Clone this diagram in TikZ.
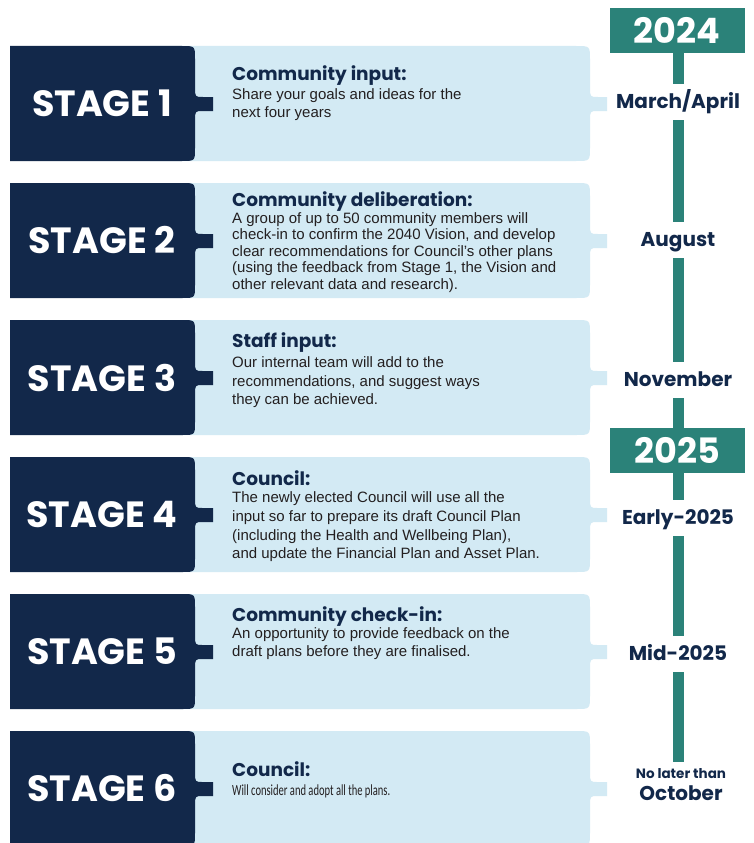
\documentclass[tikz,border=0pt]{standalone}
\usepackage{fontspec}
\setmainfont{Liberation Sans}
\newfontfamily\headfont{Poppins}
\newfontfamily\notefont{Carlito}
\usetikzlibrary{positioning}

\definecolor{navy}{HTML}{12284A}
\definecolor{paleblue}{HTML}{D3EAF4}
\definecolor{timeteal}{HTML}{2B8279}
\definecolor{bodygrey}{HTML}{231F20}

% pale panel with its small tab on the right, top edge at #1
\newcommand{\panel}[1]{%
 \fill[paleblue] (150,#1) -- (576,#1) .. controls (590,#1) .. (590,#1+14) -- (590,#1+41)
   .. controls (590,#1+51) .. (598,#1+51) -- (607,#1+51) -- (607,#1+65) -- (598,#1+65)
   .. controls (590,#1+65) .. (590,#1+75) -- (590,#1+101) .. controls (590,#1+115) .. (576,#1+115)
   -- (150,#1+115) -- cycle;}
% dark stage block, same height
\newcommand{\block}[1]{%
 \fill[navy] (10,#1) -- (182,#1) .. controls (195,#1) .. (195,#1+13) -- (195,#1+41)
   .. controls (195,#1+51) .. (203,#1+51) -- (213,#1+51) -- (213,#1+65) -- (203,#1+65)
   .. controls (195,#1+65) .. (195,#1+75) -- (195,#1+102) .. controls (195,#1+115) .. (182,#1+115)
   -- (10,#1+115) -- cycle;}

\begin{document}
\begin{tikzpicture}[x=1pt,y=-1pt,
  stagelabel/.style={text=white,inner sep=0,font=\headfont\bfseries\fontsize{36.5}{37}\selectfont},
  heading/.style={anchor=base west,inner sep=0,text depth=1,text=navy,font=\headfont\bfseries\fontsize{18.5}{20}\selectfont},
  body/.style={anchor=north west,inner sep=0,align=left,text=bodygrey},
  year/.style={fill=timeteal,text=white,minimum width=135,minimum height=45,inner sep=0,
    font=\headfont\bfseries\fontsize{35}{35}\selectfont},
  month/.style={anchor=base,fill=white,inner xsep=2,inner ysep=8,text=navy,text height=16,text depth=4,
    font=\headfont\bfseries\fontsize{20}{20}\selectfont},
  timeline/.style={timeteal,line width=11}]
 \clip (0,0) rectangle (753,843);
 \fill[white] (0,0) rectangle (753,843);

 \panel{46} \panel{183} \panel{320} \panel{457} \panel{594} \panel{731}
 \block{46} \block{183} \block{320} \block{457} \block{594} \block{731}

 \node[stagelabel] (s1) at (102,103.5) {STAGE 1};
 \node[stagelabel] (s2) at (102,240.5) {STAGE 2};
 \node[stagelabel] (s3) at (102,377.5) {STAGE 3};
 \node[stagelabel] (s4) at (102,514.5) {STAGE 4};
 \node[stagelabel] (s5) at (102,651.5) {STAGE 5};
 \node[stagelabel] (s6) at (102,788.5) {STAGE 6};

 \node[heading] (h1) at (232,81) {Community input:};
 \node[body,font=\fontsize{15}{18}\selectfont] (b1) at (232,88)
  {Share your goals and ideas for the\\next four years};
 \node[heading] (h2) at (232,206) {Community deliberation:};
 \node[body,font=\fontsize{15}{16.6}\selectfont] (b2) at (232,212)
  {A group of up to 50 community members will\\check-in to confirm the 2040 Vision, and develop\\clear recommendations for Council's other plans\\(using the feedback from Stage 1, the Vision and\\other relevant data and research).};
 \node[heading] (h3) at (232,347) {Staff input:};
 \node[body,font=\fontsize{15}{18.5}\selectfont] (b3) at (232,356.5)
  {Our internal team will add to the\\recommendations, and suggest ways\\they can be achieved.};
 \node[heading] (h4) at (232,485) {Council:};
 \node[body,font=\fontsize{15}{18.8}\selectfont] (b4) at (232,491.5)
  {The newly elected Council will use all the\\input so far to prepare its draft Council Plan\\(including the Health and Wellbeing Plan),\\and update the Financial Plan and Asset Plan.};
 \node[heading] (h5) at (232,621) {Community check-in:};
 \node[body,font=\fontsize{15}{18}\selectfont] (b5) at (232,627)
  {An opportunity to provide feedback on the\\draft plans before they are finalised.};
 \node[heading] (h6) at (232,776) {Council:};
 \node[body,xscale=0.68,transform shape,font=\notefont\fontsize{15.5}{16}\selectfont] (b6) at (232,785)
  {Will consider and adopt all the plans.};

 % timeline on the right
 \node[anchor=north,inner sep=0,outer sep=7,align=center,text=navy] (m6) at (681,762)
  {\headfont\bfseries\fontsize{13.5}{15}\selectfont No later than\\[6pt]
   \headfont\bfseries\fontsize{20}{20}\selectfont October};
 \coordinate (ltop) at (678,30);
 \draw[timeline] (ltop) -- (ltop |- m6.north);
 \node[year] (y24) at (677,30.5) {2024};
 \node[year] (y25) at (677,450) {2025};
 \node[month] (m1) at (678,108) {March/April};
 \node[month] (m2) at (678,246) {August};
 \node[month] (m3) at (678,386) {November};
 \node[month] (m4) at (678,524) {Early-2025};
 \node[month] (m5) at (678,660) {Mid-2025};
\end{tikzpicture}
\end{document}
